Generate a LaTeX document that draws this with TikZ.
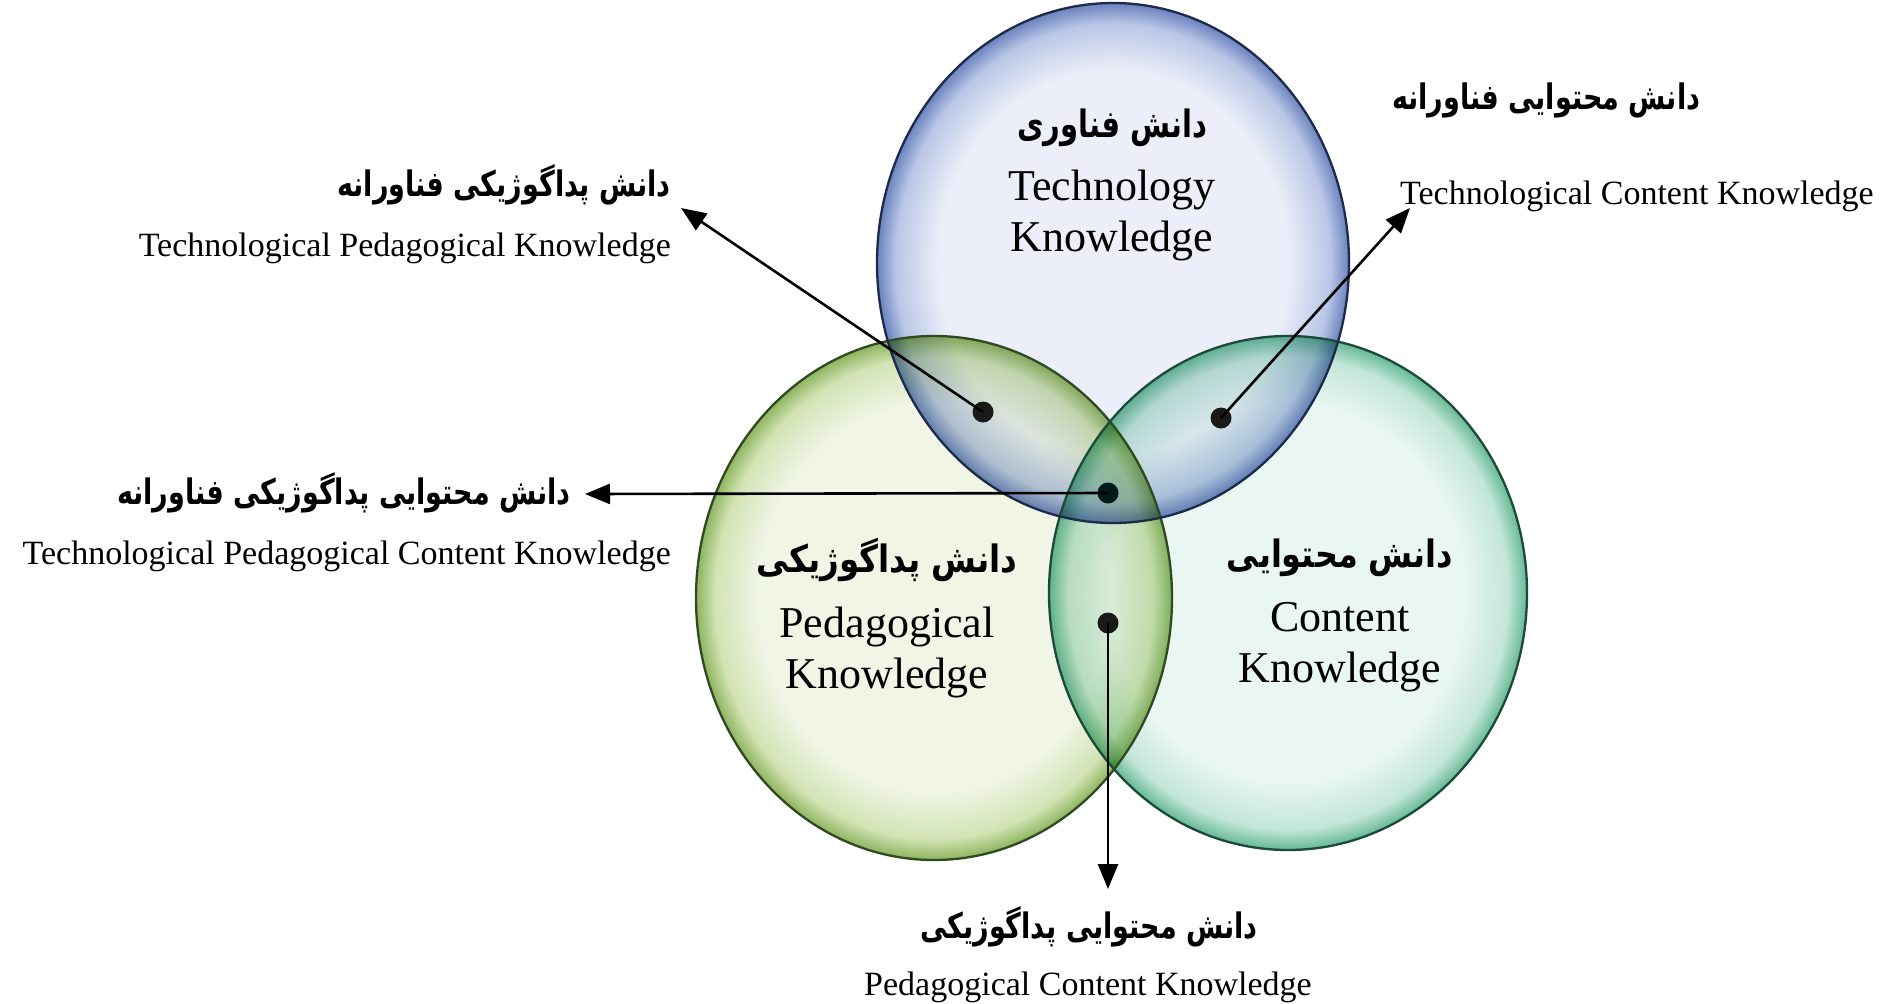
\documentclass[tikz,border=0pt]{standalone}
\usepackage{fontspec}
\setmainfont{Liberation Serif}
\newfontfamily\fa[Script=Arabic]{DejaVu Sans}
\TeXXeTstate=1
\usetikzlibrary{arrows.meta}
\definecolor{bluein}{HTML}{ECEFF9}
\definecolor{bluemid}{HTML}{B9C6E6}
\definecolor{blueout}{HTML}{6A82BE}
\definecolor{blueline}{HTML}{1E2A4A}
\definecolor{greenin}{HTML}{F0F5E6}
\definecolor{greenmid}{HTML}{D2E3B4}
\definecolor{greenout}{HTML}{8DB45E}
\definecolor{greenline}{HTML}{2F4A22}
\definecolor{tealin}{HTML}{E9F6F1}
\definecolor{tealmid}{HTML}{C2E6D7}
\definecolor{tealout}{HTML}{66B896}
\definecolor{tealline}{HTML}{1C4A3A}
\pgfdeclareradialshading{blueball}{\pgfpoint{0bp}{0bp}}{color(0bp)=(bluein); color(18.5bp)=(bluein); color(23bp)=(bluemid); color(25bp)=(blueout); color(50bp)=(blueout)}
\pgfdeclareradialshading{greenball}{\pgfpoint{0bp}{0bp}}{color(0bp)=(greenin); color(18.5bp)=(greenin); color(23bp)=(greenmid); color(25bp)=(greenout); color(50bp)=(greenout)}
\pgfdeclareradialshading{tealball}{\pgfpoint{0bp}{0bp}}{color(0bp)=(tealin); color(18.5bp)=(tealin); color(23bp)=(tealmid); color(25bp)=(tealout); color(50bp)=(tealout)}
\newcommand\fatxt[1]{{\fa\bfseries\beginR #1\endR}}
\tikzset{
  dot/.style={circle, fill=black!90, inner sep=0pt, minimum size=21pt},
  arr/.style={line width=2.6pt, -{Triangle[length=25pt,width=20pt]}},
  rim/.style={line width=2.3pt},
  entxt/.style={inner sep=0pt, font=\fontsize{34pt}{40pt}\selectfont},
  fatxts/.style={inner sep=0pt, yscale=1.3, transform shape, font=\fontsize{27pt}{32pt}\selectfont},
  bigen/.style={inner sep=0pt, font=\fontsize{44pt}{50pt}\selectfont},
  bigfa/.style={inner sep=0pt, yscale=1.3, transform shape, font=\fontsize{29pt}{34pt}\selectfont},
}
\begin{document}
\begin{tikzpicture}[x=1pt,y=-1pt]
\useasboundingbox (0,0) rectangle (1885,1004);
\fill[white] (0,0) rectangle (1885,1004);
% circles
\coordinate (cT) at (1113,263);
\coordinate (cP) at (934,598);
\coordinate (cC) at (1288,593);
\shade[shading=greenball, blend mode=multiply] (cP) ellipse [x radius=238pt, y radius=262pt];
\shade[shading=tealball, blend mode=multiply] (cC) ellipse [x radius=239pt, y radius=257pt];
\shade[shading=blueball, blend mode=multiply] (cT) ellipse [x radius=236pt, y radius=260pt];
\draw[rim, draw=greenline] (cP) ellipse [x radius=238pt, y radius=262pt];
\draw[rim, draw=tealline] (cC) ellipse [x radius=239pt, y radius=257pt];
\draw[rim, draw=blueline] (cT) ellipse [x radius=236pt, y radius=260pt];
% circle labels
\node[bigfa] (tkfa) at (1112,128) {\fatxt{دانش فناوری}};
\node[bigen, anchor=mid] (tk1) at (1112,198) {Technology};
\node[bigen, anchor=mid] (tk2) at (1112,249) {Knowledge};
\node[bigfa, xscale=1.12] (pkfa) at (887,560) {\fatxt{دانش پداگوژیکی}};
\node[bigen, anchor=mid] (pk1) at (887,635) {Pedagogical};
\node[bigen, anchor=mid] (pk2) at (887,686) {Knowledge};
\node[bigfa, xscale=1.1] (ckfa) at (1340,558) {\fatxt{دانش محتوایی}};
\node[bigen, anchor=mid] (ck1) at (1340,629) {Content};
\node[bigen, anchor=mid] (ck2) at (1340,680) {Knowledge};
% dots
\node[dot] (dTPK) at (983,412) {};
\node[dot] (dTCK) at (1221,418) {};
\node[dot, fill=black!80!teal] (dTPACK) at (1108,493) {};
\node[dot] (dPCK) at (1108,623) {};
% arrow ends
\coordinate (eTPK) at (681,208);
\coordinate (eTCK) at (1410,208);
\coordinate (eTPACK) at (585,494);
\coordinate (ePCK) at (1108,889);
\draw[arr] (dTPK.center) -- (eTPK);
\draw[arr] (dTCK.center) -- (eTCK);
\draw[arr] (dTPACK.center) -- (eTPACK);
\draw[arr] (dPCK.center) -- (ePCK);
% side labels
\node[fatxts, anchor=east] (lTPKfa) at (671,185) {\fatxt{دانش پداگوژیکی فناورانه}};
\node[entxt, anchor=mid east] (lTPKen) at (671,254) {Technological Pedagogical Knowledge};
\node[fatxts, anchor=west] (lTCKfa) at (1392,100) {\fatxt{دانش محتوایی فناورانه}};
\node[entxt, anchor=mid west] (lTCKen) at (1400,202) {Technological Content Knowledge};
\node[fatxts, anchor=east] (lTPACKfa) at (571,493) {\fatxt{دانش محتوایی پداگوژیکی فناورانه}};
\node[entxt, anchor=mid east] (lTPACKen) at (671,562) {Technological Pedagogical Content Knowledge};
\node[fatxts] (lPCKfa) at (1089,927) {\fatxt{دانش محتوایی پداگوژیکی}};
\node[entxt, anchor=mid] (lPCKen) at (1088,993) {Pedagogical Content Knowledge};
\end{tikzpicture}
\end{document}
